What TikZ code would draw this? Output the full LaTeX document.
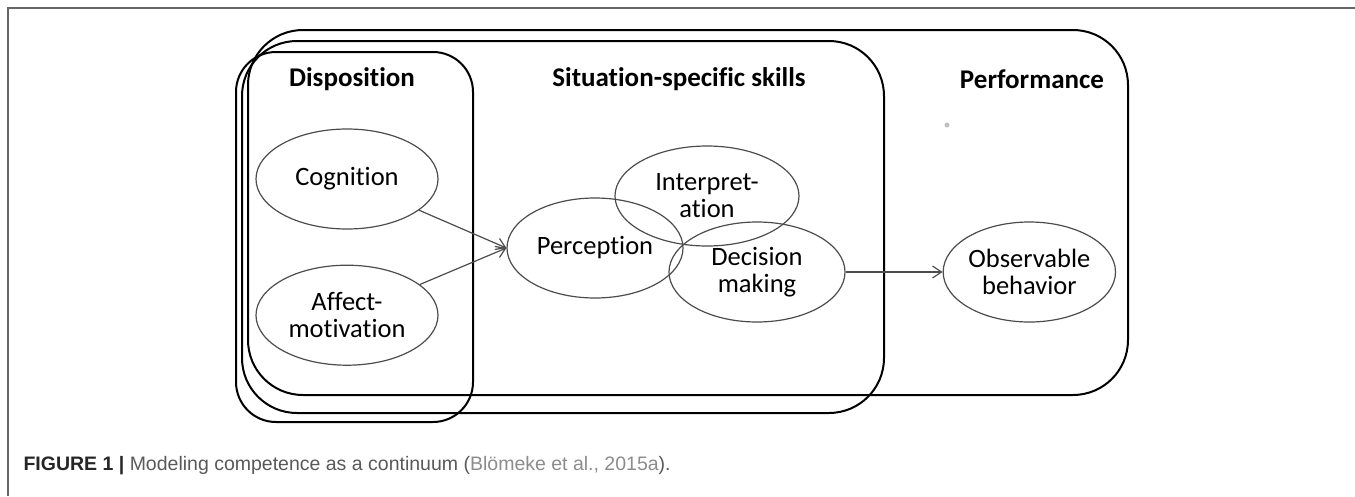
\documentclass[tikz,border=0pt]{standalone}
\usepackage{fontspec}
\setmainfont{Carlito}[Ligatures=NoCommon]
\newfontfamily\capfont{Liberation Sans}
\usetikzlibrary{positioning, shapes.geometric, arrows.meta}

\begin{document}
\begin{tikzpicture}[x=1pt,y=-1pt,->,>={Straight Barb[length=9pt,width=12pt]},
  box/.style={draw=black, line width=2pt, rectangle, inner sep=0pt},
  oval/.style={draw=black!70, line width=1.2pt, ellipse, inner sep=0pt,
    minimum width=180pt, minimum height=100pt, align=center,
    font=\fontsize{26.5}{27}\selectfont},
  title/.style={font=\fontsize{27}{30}\selectfont\bfseries},
  link/.style={draw=black!70, line width=1.2pt}]
  \useasboundingbox (0,0) rectangle (1355,496);
  % figure frame
  \draw[-, draw=black!60, line width=1.5pt] (1355,8) -| (8,496);

  % the three stages
  \node[box, minimum width=880pt, minimum height=365pt, rounded corners=55pt] (perf) at (688,212.5) {};
  \node[box, minimum width=642pt, minimum height=372pt, rounded corners=55pt] (situ) at (563,227) {};
  \node[box, minimum width=237pt, minimum height=370pt, rounded corners=40pt] (disp) at (354.5,237) {};

  \node[title] (disptitle) at (352,79) {Disposition};
  \node[title] (situtitle) at (679,79) {Situation-specific skills};
  \node[title] (perftitle) at (1032,79) {Performance};

  % dispositions
  \node[oval, minimum width=182pt] (cog) at (347,179) {Cognition};
  \node[oval, minimum width=182pt, below=35pt of cog] (aff) {Affect-\\motivation};

  % skills
  \node[oval, minimum width=176pt] (perc) at (595,248) {Perception};
  \node[oval, minimum width=184pt] (interp) at ([xshift=112pt,yshift=52pt]perc.center) {Interpret-\\ation};
  \node[oval, minimum width=176pt] (dec) at ([xshift=162pt,yshift=-24pt]perc.center) {Decision\\making};

  % performance
  \node[oval, minimum width=168pt, right=97pt of dec] (obs) {Observable\\behavior};
  \fill[black!25] (947,125) circle (2.5pt);

  \draw[link] (cog) -- (perc.west);
  \draw[link] (aff) -- (perc.west);
  \draw[link] (dec.east) -- (obs.west);

  \node[anchor=west, font=\capfont\fontsize{19.5}{22}\selectfont, text=black!65] (caption) at (20,466)
    {\textcolor{black!85}{\bfseries FIGURE 1 |} Modeling competence as a continuum (\textcolor{black!45}{Blömeke et al., 2015a}).};
\end{tikzpicture}
\end{document}
